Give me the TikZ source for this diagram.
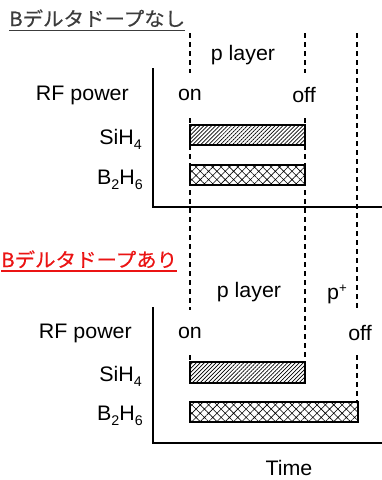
\documentclass[tikz,border=0pt]{standalone}
\usepackage{fontspec}
\setmainfont{Liberation Sans}[FakeStretch=1.02]
\newfontfamily\jpfont{Noto Sans CJK JP}[FakeStretch=1.05,FakeBold=0.4]
\usetikzlibrary{patterns.meta}
\definecolor{titlegray}{RGB}{60,60,60}
\definecolor{titlered}{RGB}{235,20,20}
\newcommand{\mysub}[1]{\raisebox{-5pt}{\fontsize{14}{14}\selectfont #1}}
\newcommand{\mysup}[1]{\raisebox{7pt}{\fontsize{13}{13}\selectfont #1}}
\begin{document}
\begin{tikzpicture}[x=1pt,y=-1pt,
  lbl/.style={inner sep=0pt,font=\fontsize{21}{25}\selectfont},
  ttl/.style={inner sep=0pt,anchor=base west,font=\jpfont\fontsize{19.5}{23}\selectfont},
  guide/.style={line width=1.2pt,dash pattern=on 5pt off 4pt},
  axis/.style={line width=2.4pt},
  barsi/.style={draw,line width=2pt,pattern={Lines[angle=45,distance=2.8pt,line width=0.7pt]}},
  barb/.style={draw,line width=2pt,pattern={Hatch[angle=45,distance=5.9pt,line width=0.6pt]}}
]
\useasboundingbox[fill=white] (0,0) rectangle (382,480);

% ---------- titles ----------
\node[ttl,text=titlegray] (t1) at (9,26) {Bデルタドープなし};
\draw[titlegray,line width=1.6pt] ([yshift=-4.5pt]t1.base west) -- ([yshift=-4.5pt]t1.base east);
\node[ttl,text=titlered] (t2) at (1,267) {Bデルタドープあり};
\draw[titlered,line width=1.6pt] ([yshift=-4pt]t2.base west) -- ([yshift=-4pt]t2.base east);

% ---------- dashed guides ----------
\draw[guide] (190,33) -- (190,73);
\draw[guide] (190,118) -- (190,310);
\draw[guide] (190,355) -- (190,362);
\draw[guide] (305,33) -- (305,73);
\draw[guide] (305,118) -- (305,362);
\draw[guide] (357,33) -- (357,310);
\draw[guide] (357,355) -- (357,402);

% ---------- top diagram ----------
\node[lbl] (pl1) at (243,55) {p layer};
\node[lbl,anchor=east] (rf1) at (129,95) {RF power};
\node[lbl] (on1) at (190,95) {on};
\node[lbl] (off1) at (304,95) {off};
\node[lbl,anchor=base east] (si1) at (142,144) {SiH\mysub{4}};
\node[lbl,anchor=base east] (b1) at (143,184) {B\mysub{2}H\mysub{6}};
\draw[barsi] (190,125) rectangle (305,145);
\draw[barb] (190,165) rectangle (305,185);
\coordinate (ax1top) at (153,68);
\coordinate (ax1org) at (153,207);
\coordinate (ax1end) at (383,207);
\draw[axis] (ax1top) -- (ax1org) -- (ax1end);

% ---------- bottom diagram ----------
\node[lbl] (pl2) at (249,292) {p layer};
\node[lbl,anchor=base] (pp2) at (337,299) {p\mysup{+}};
\node[lbl,anchor=east] (rf2) at (132,333) {RF power};
\node[lbl] (on2) at (190,333) {on};
\node[lbl] (off2) at (360,333) {off};
\node[lbl,anchor=base east] (si2) at (142,381) {SiH\mysub{4}};
\node[lbl,anchor=base east] (b2) at (143,420) {B\mysub{2}H\mysub{6}};
\draw[barsi] (190,362) rectangle (305,383);
\draw[barb] (190,402) rectangle (358,422);
\coordinate (ax2top) at (153,307);
\coordinate (ax2org) at (153,443);
\coordinate (ax2end) at (383,443);
\draw[axis] (ax2top) -- (ax2org) -- (ax2end);
\node[lbl] (time) at (289,468) {Time};
\end{tikzpicture}
\end{document}
